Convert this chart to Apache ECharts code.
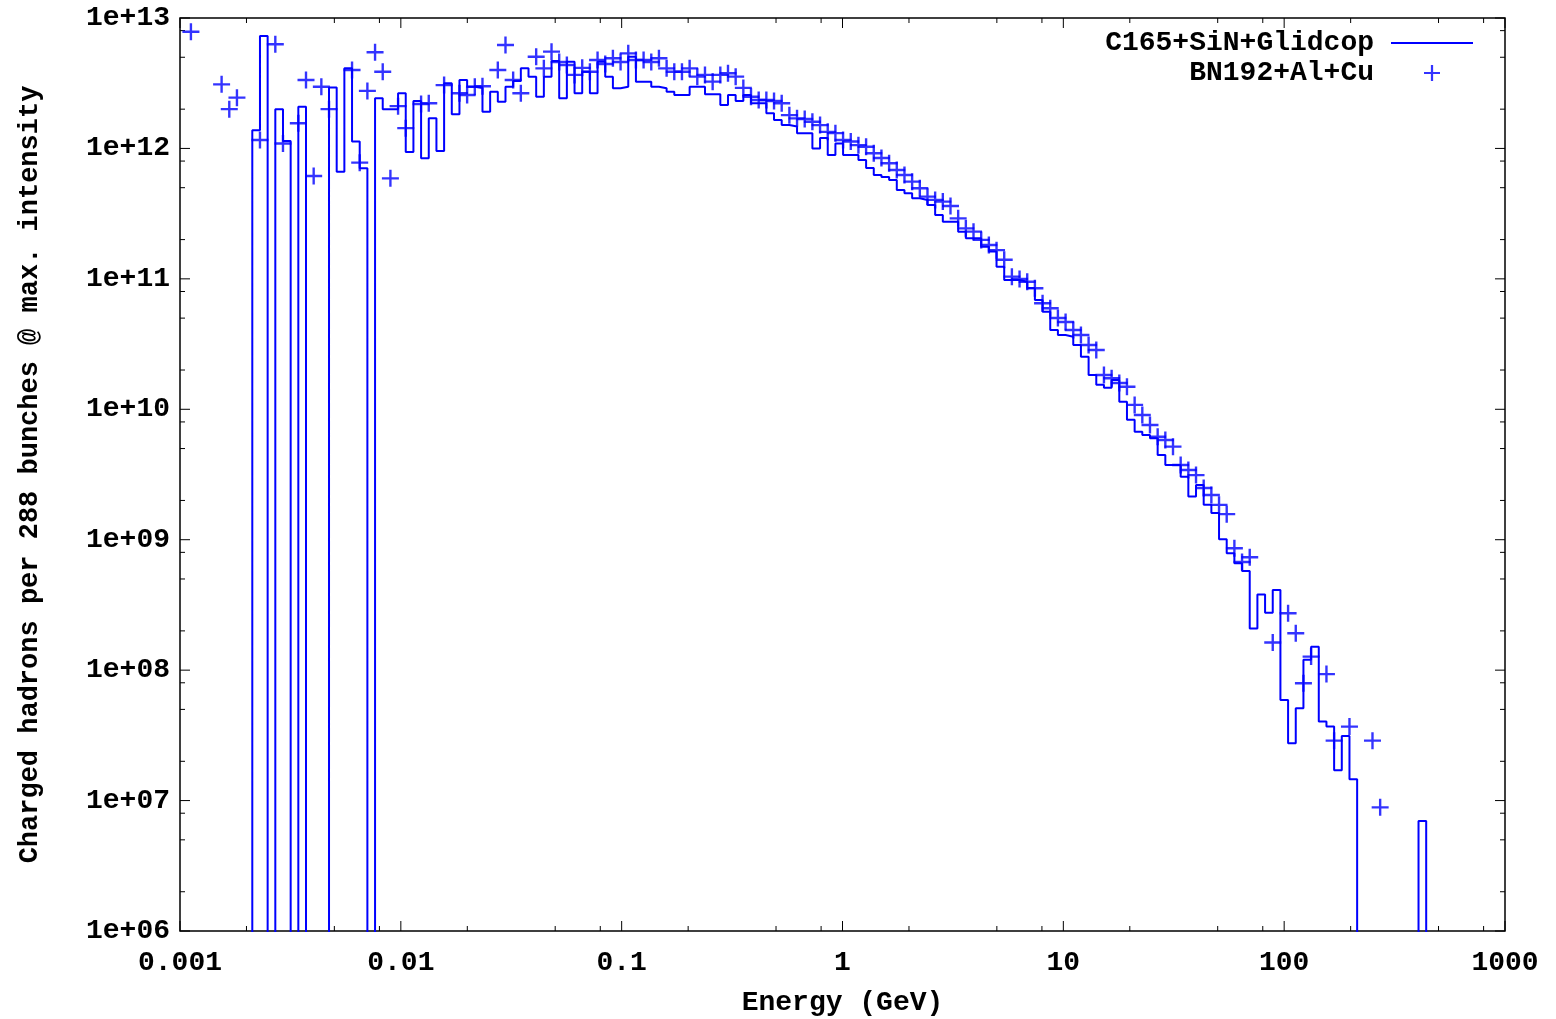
<!DOCTYPE html>
<html>
<head>
<meta charset="utf-8">
<title>Charged hadrons energy spectrum</title>
<script src="https://cdn.jsdelivr.net/npm/echarts@6.0.0/dist/echarts.min.js"></script>
<style>
html,body{margin:0;padding:0;background:#ffffff;}
#chart{width:1556px;height:1019px;}
</style>
</head>
<body>
<div id="chart"></div>
<script>
// ---------------- data ----------------
const firstEdgeGeV = 1.0344e-3;   // lower edge of bin 0 (GeV)
const binLnWidth = 0.08;          // bins equally spaced in ln(E)

// C165+SiN+Glidcop : content of each bin (0 = empty bin)
const glidcop = [
  0, 0, 0, 0, 0, 0, 0, 0, 0,
  1.38e12, 7.28e12, 0, 2.0e12, 1.14e12, 0, 2.09e12, 0, 0, 0,
  2.93e12, 6.63e11, 4.11e12, 1.13e12, 7.04e11, 0, 2.42e12, 2.0e12, 2.0e12, 2.65e12,
  9.4e11, 2.31e12, 8.4e11, 1.70e12, 9.55e11, 3.16e12, 1.83e12, 3.35e12, 2.97e12, 2.91e12,
  1.91e12, 2.72e12, 2.28e12, 2.97e12, 3.29e12, 4.11e12, 3.55e12, 2.49e12, 3.55e12, 4.68e12,
  2.42e12, 4.62e12, 2.65e12, 3.87e12, 2.65e12, 4.62e12, 3.55e12, 2.89e12, 2.97e12, 5.05e12,
  3.25e12, 3.25e12, 2.97e12, 2.89e12, 2.72e12, 2.57e12, 2.57e12, 2.97e12, 2.97e12, 2.60e12,
  2.60e12, 2.15e12, 2.57e12, 2.31e12, 2.57e12, 2.22e12, 2.22e12, 1.86e12, 1.65e12, 1.51e12,
  1.47e12, 1.31e12, 1.31e12, 1.0e12, 1.20e12, 8.91e11, 1.09e12, 8.91e11, 8.91e11, 8.15e11,
  7.08e11, 6.26e11, 6.03e11, 5.73e11, 4.80e11, 4.53e11, 4.15e11, 4.03e11, 3.68e11, 3.09e11,
  2.74e11, 2.74e11, 2.30e11, 2.05e11, 2.05e11, 1.76e11, 1.62e11, 1.24e11, 9.8e10, 9.8e10,
  9.51e10, 8.51e10, 6.89e10, 5.6e10, 4.05e10, 3.71e10, 3.60e10, 3.11e10, 2.53e10, 1.83e10,
  1.54e10, 1.46e10, 1.68e10, 1.14e10, 8.3e9, 6.73e9, 6.35e9, 5.99e9, 4.46e9, 3.74e9,
  3.74e9, 3.04e9, 2.14e9, 2.63e9, 1.85e9, 1.60e9, 1.01e9, 7.87e8, 6.59e8, 5.75e8,
  2.09e8, 3.8e8, 2.76e8, 4.12e8, 5.9e7, 2.75e7, 5.1e7, 1.2e8, 1.51e8, 4.03e7,
  3.69e7, 1.71e7, 3.12e7, 1.46e7, 0, 0, 0, 0, 0, 0,
  0, 0, 6.97e6, 0
];

// BN192+Al+Cu : points placed on bin edges (edge index, value)
const bn192Edge = [
  1, 5, 6, 7, 10, 12, 13, 15, 16, 17, 18, 19, 22, 23, 24, 25, 26, 27, 28, 29,
  31, 32, 34, 36, 37, 38, 39, 41, 42, 43, 44, 46, 47, 48, 49, 50, 51, 52, 53, 54,
  55, 56, 57, 58, 59, 60, 61, 62, 63, 64, 65, 66, 67, 68, 69, 70, 71, 72, 73, 74,
  75, 76, 77, 78, 79, 80, 81, 82, 83, 84, 85, 86, 87, 88, 89, 90, 91, 92, 93, 94,
  95, 96, 97, 98, 99, 100, 101, 102, 103, 104, 105, 106, 107, 108, 109, 110, 111, 112, 113, 114,
  115, 116, 117, 118, 119, 120, 121, 122, 123, 124, 125, 126, 127, 128, 129, 130, 131, 132, 133, 134,
  135, 136, 137, 138, 139, 142, 144, 145, 146, 147, 149, 150, 152, 155, 156
];
const bn192Values = [
  7.85e12, 3.1e12, 2.0e12, 2.45e12, 1.16e12, 6.29e12, 1.09e12, 1.56e12, 3.35e12, 6.15e11,
  2.97e12, 2.0e12, 3.99e12, 7.78e11, 2.76e12, 5.46e12, 3.87e12, 5.9e11, 2.11e12, 1.43e12,
  2.19e12, 2.22e12, 3.06e12, 2.65e12, 2.57e12, 2.97e12, 3.0e12, 3.99e12, 6.21e12, 3.35e12,
  2.65e12, 5.05e12, 4.11e12, 5.52e12, 4.6e12, 4.36e12, 3.66e12, 4.15e12, 3.87e12, 4.76e12,
  4.44e12, 4.91e12, 4.6e12, 5.36e12, 4.76e12, 4.76e12, 4.6e12, 4.91e12, 4.11e12, 3.87e12,
  3.87e12, 4.11e12, 3.55e12, 3.66e12, 3.25e12, 3.66e12, 3.77e12, 3.55e12, 2.91e12, 2.49e12,
  2.35e12, 2.35e12, 2.31e12, 2.22e12, 1.80e12, 1.70e12, 1.68e12, 1.60e12, 1.51e12, 1.34e12,
  1.31e12, 1.16e12, 1.13e12, 1.06e12, 1.03e12, 9.18e11, 8.45e11, 7.69e11, 6.83e11, 6.26e11,
  5.56e11, 4.95e11, 4.27e11, 4.03e11, 3.91e11, 3.62e11, 2.91e11, 2.44e11, 2.30e11, 1.99e11,
  1.82e11, 1.66e11, 1.40e11, 1.04e11, 9.97e10, 9.51e10, 8.47e10, 6.50e10, 5.95e10, 5.01e10,
  4.67e10, 4.05e10, 3.71e10, 3.11e10, 2.85e10, 1.83e10, 1.73e10, 1.59e10, 1.49e10, 1.08e10,
  9.04e9, 7.58e9, 6.16e9, 5.82e9, 5.17e9, 3.74e9, 3.42e9, 3.13e9, 2.49e9, 2.20e9,
  1.85e9, 1.57e9, 8.6e8, 6.75e8, 7.33e8, 1.63e8, 2.73e8, 1.92e8, 7.93e7, 1.27e8,
  9.33e7, 2.88e7, 3.69e7, 2.88e7, 8.87e6
];

const xTickValues = [0.001, 0.01, 0.1, 1, 10, 100, 1000];
const xTickLabels = ['0.001', '0.01', '0.1', '1', '10', '100', '1000'];
const yTickValues = [1e6, 1e7, 1e8, 1e9, 1e10, 1e11, 1e12, 1e13];
const yTickLabels = ['1e+06', '1e+07', '1e+08', '1e+09', '1e+10', '1e+11', '1e+12', '1e+13'];
const minorMultipliers = [2, 5, 8];
const seriesNames = ['C165+SiN+Glidcop', 'BN192+Al+Cu'];
const xTitle = 'Energy (GeV)';
const yTitle = 'Charged hadrons per 288 bunches @ max. intensity';

// ---------------- build ----------------
const BLUE = '#0000ff';
const FONT = 'Liberation Mono';
const EMPTY = 1; // empty bins fall far below the axis and are clipped
const edge = k => firstEdgeGeV * Math.exp(binLnWidth * k);

const histData = glidcop.map((v, k) => [edge(k), v > 0 ? v : EMPTY]);
histData.push([edge(glidcop.length), EMPTY]);

const pointData = bn192Edge.map((k, i) => [edge(k), bn192Values[i]]);

const xTickData = [];
const yTickData = [];
xTickValues.forEach((v, i) => {
  xTickData.push([v, 1e6, 10]);
  if (i < xTickValues.length - 1) minorMultipliers.forEach(m => xTickData.push([v * m, 1e6, 5]));
});
yTickValues.forEach((v, i) => {
  yTickData.push([0.001, v, 10]);
  if (i < yTickValues.length - 1) minorMultipliers.forEach(m => yTickData.push([0.001, v * m, 5]));
});

const labelIdx = (val, arr) => {
  const e = Math.round(Math.log10(val));
  return arr.findIndex(t => Math.round(Math.log10(t)) === e);
};

const CROSS = 'path://M43,0 H57 V43 H100 V57 H57 V100 H43 V57 H0 V43 H43 Z';

const chart = echarts.init(document.getElementById('chart'), null, {renderer: 'canvas'});
chart.setOption({
  animation: false,
  backgroundColor: '#ffffff',
  grid: {left: 180, top: 18, width: 1325, height: 913, show: true, borderColor: '#000', borderWidth: 1.5,
    backgroundColor: 'transparent', containLabel: false, outerBoundsMode: 'none'},
  legend: {
    orient: 'vertical', align: 'right', right: 78, top: 24, itemGap: 2,
    itemWidth: 82, itemHeight: 16,
    textStyle: {fontFamily: FONT, fontWeight: 'bold', fontSize: 28, color: '#000', padding: [0, 12, 0, 0]},
    data: [
      {name: seriesNames[0], icon: 'path://M0,0 H82 V2 H0 Z'},
      {name: seriesNames[1], icon: CROSS}
    ]
  },
  xAxis: {
    type: 'log', logBase: 10, min: 0.001, max: 1000, interval: 1,
    axisLine: {show: false}, axisTick: {show: false}, splitLine: {show: false}, minorTick: {show: false},
    axisLabel: {margin: 18, fontFamily: FONT, fontWeight: 'bold', fontSize: 28, color: '#000',
      formatter: v => xTickLabels[labelIdx(v, xTickValues)]},
    name: xTitle, nameLocation: 'middle', nameGap: 58,
    nameTextStyle: {fontFamily: FONT, fontWeight: 'bold', fontSize: 28, color: '#000'}
  },
  yAxis: {
    type: 'log', logBase: 10, min: 1e6, max: 1e13, interval: 1,
    axisLine: {show: false}, axisTick: {show: false}, splitLine: {show: false}, minorTick: {show: false},
    axisLabel: {margin: 10, fontFamily: FONT, fontWeight: 'bold', fontSize: 28, color: '#000',
      formatter: v => yTickLabels[labelIdx(v, yTickValues)]},
    name: yTitle, nameLocation: 'middle', nameGap: 136, nameRotate: 90,
    nameTextStyle: {fontFamily: FONT, fontWeight: 'bold', fontSize: 27, color: '#000'}
  },
  series: [
    {
      name: seriesNames[0], type: 'line', step: 'end', data: histData,
      symbol: 'none', clip: true, connectNulls: false,
      lineStyle: {color: BLUE, width: 2}, itemStyle: {color: BLUE}
    },
    {
      name: seriesNames[1], type: 'scatter', data: pointData,
      symbol: CROSS, symbolSize: 17, clip: false,
      itemStyle: {color: BLUE}
    },
    {
      type: 'custom', silent: true, clip: false, data: xTickData, encode: {x: 0, y: 1},
      renderItem: (params, api) => {
        const v = api.value(0), len = api.value(2);
        const b = api.coord([v, 1e6]), t = api.coord([v, 1e13]);
        return {type: 'group', children: [
          {type: 'line', shape: {x1: b[0], y1: b[1], x2: b[0], y2: b[1] - len}, style: {stroke: '#000', lineWidth: 1}},
          {type: 'line', shape: {x1: t[0], y1: t[1], x2: t[0], y2: t[1] + len}, style: {stroke: '#000', lineWidth: 1}}
        ]};
      }
    },
    {
      type: 'custom', silent: true, clip: false, data: yTickData, encode: {x: 0, y: 1},
      renderItem: (params, api) => {
        const v = api.value(1), len = api.value(2);
        const l = api.coord([0.001, v]), r = api.coord([1000, v]);
        return {type: 'group', children: [
          {type: 'line', shape: {x1: l[0], y1: l[1], x2: l[0] + len, y2: l[1]}, style: {stroke: '#000', lineWidth: 1}},
          {type: 'line', shape: {x1: r[0], y1: r[1], x2: r[0] - len, y2: r[1]}, style: {stroke: '#000', lineWidth: 1}}
        ]};
      }
    }
  ]
});
</script>
</body>
</html>
